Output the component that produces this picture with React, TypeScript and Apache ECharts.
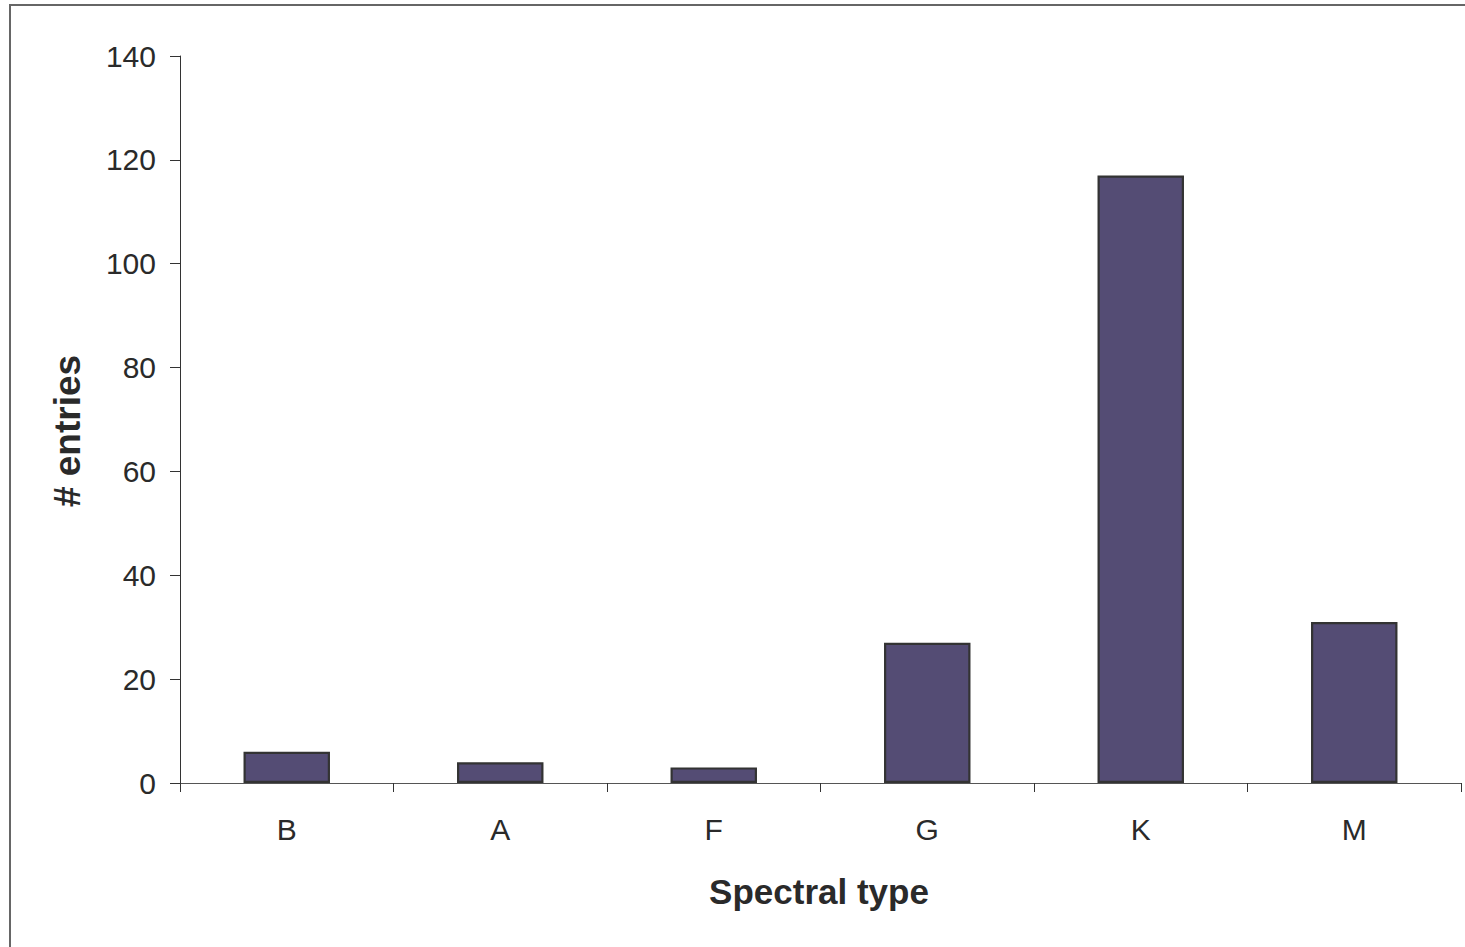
import React, { useEffect, useRef } from "react";
import * as echarts from "echarts";

const categories = ["B", "A", "F", "G", "K", "M"];
const entries = [6, 4, 3, 27, 117, 31];
const yTicks = [0, 20, 40, 60, 80, 100, 120, 140];

export default function App() {
  const ref = useRef<HTMLDivElement>(null);
  useEffect(() => {
    if (!ref.current) return;
    const chart = echarts.init(ref.current, undefined, { renderer: "svg" });
    chart.setOption({
      animation: false,
      backgroundColor: "#ffffff",
      grid: { left: 180, right: 4, top: 56, bottom: 164, containLabel: false },
      xAxis: {
        type: "category",
        data: categories,
        boundaryGap: true,
        axisLine: { show: true, lineStyle: { color: "#555", width: 1 } },
        axisTick: { show: true, length: 9, inside: false, lineStyle: { color: "#333", width: 1 } },
        axisLabel: {
          margin: 31,
          color: "#2a2a2a",
          fontSize: 30,
          fontFamily: "Liberation Sans, Arial, sans-serif",
        },
        splitLine: { show: false },
      },
      yAxis: {
        type: "value",
        min: yTicks[0],
        max: yTicks[yTicks.length - 1],
        interval: 20,
        axisLine: { show: true, lineStyle: { color: "#333", width: 1 } },
        axisTick: { show: true, length: 10, lineStyle: { color: "#333", width: 1 } },
        axisLabel: {
          margin: 24,
          color: "#2a2a2a",
          fontSize: 30,
          fontFamily: "Liberation Sans, Arial, sans-serif",
        },
        splitLine: { show: false },
      },
      series: [
        {
          type: "bar",
          data: entries,
          barWidth: "40.5%",
          itemStyle: { color: "#544C74", borderColor: "#333333", borderWidth: 2.2 },
        },
      ],
      graphic: [
        {
          type: "rect",
          shape: { x: 10, y: 5, width: 1600, height: 1100 },
          style: { fill: "none", stroke: "#666", lineWidth: 2 },
          silent: true,
        },
        {
          type: "text",
          x: 819,
          y: 891,
          style: {
            text: "Spectral type",
            fontSize: 35,
            fontWeight: "bold",
            fontFamily: "Liberation Sans, Arial, sans-serif",
            fill: "#2a2a2a",
            align: "center",
            verticalAlign: "middle",
          },
        },
        {
          type: "text",
          x: 67,
          y: 431,
          rotation: Math.PI / 2,
          style: {
            text: "# entries",
            fontSize: 37,
            fontWeight: "bold",
            fontFamily: "Liberation Sans, Arial, sans-serif",
            fill: "#2a2a2a",
            align: "center",
            verticalAlign: "middle",
          },
        },
      ],
    });
    return () => chart.dispose();
  }, []);
  return (
    <div
      ref={ref}
      style={{ position: "absolute", left: 0, top: 0, width: 1465, height: 947 }}
    />
  );
}
